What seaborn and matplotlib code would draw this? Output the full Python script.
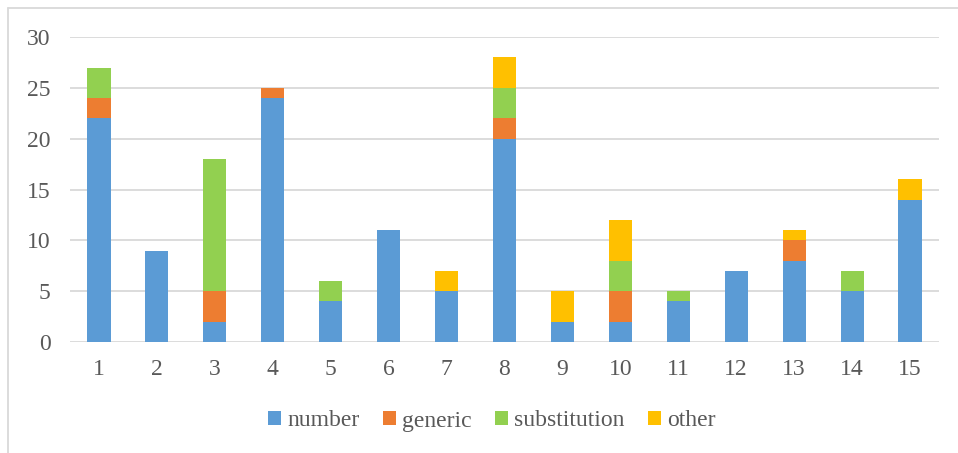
import matplotlib
matplotlib.use("Agg")
import matplotlib.pyplot as plt
from matplotlib.lines import Line2D
from matplotlib.patches import Patch
from matplotlib.font_manager import FontProperties
import numpy as np
import pandas as pd
import seaborn as sns

categories = [str(i) for i in range(1, 16)]
number = [22, 9, 2, 24, 4, 11, 5, 20, 2, 2, 4, 7, 8, 5, 14]
generic = [2, 0, 3, 1, 0, 0, 0, 2, 0, 3, 0, 0, 2, 0, 0]
substitution = [3, 0, 13, 0, 2, 0, 0, 3, 0, 3, 1, 0, 0, 2, 0]
other = [0, 0, 0, 0, 0, 0, 2, 3, 3, 4, 0, 0, 1, 0, 2]

series_names = ["number", "generic", "substitution", "other"]
colors = ["#5B9BD5", "#ED7D31", "#92D050", "#FFC000"]
y_ticks = [0, 5, 10, 15, 20, 25, 30]

sns.set_theme(style="white")
plt.rcParams["font.family"] = ["Liberation Serif", "DejaVu Serif"]
text_color = "#595959"
grid_color = "#D9D9D9"

fig = plt.figure(figsize=(9.58, 4.53), dpi=100)
ax = fig.add_axes([70 / 958, 111 / 453, 869 / 958, 305 / 453])

# stacked bars: draw cumulative totals from the top segment down
values = np.array([number, generic, substitution, other], dtype=float)
cumulative = np.cumsum(values, axis=0)
for i in range(len(series_names) - 1, -1, -1):
    df = pd.DataFrame({"cat": categories, "val": cumulative[i]})
    sns.barplot(data=df, x="cat", y="val", color=colors[i], width=0.4,
                saturation=1, ax=ax, zorder=3, linewidth=0)

ax.set_xlim(-0.5, 14.5)
ax.set_ylim(0, 30)
ax.set_yticks(y_ticks)
ax.set_xlabel("")
ax.set_ylabel("")
for s in ax.spines.values():
    s.set_visible(False)
ax.yaxis.grid(True, color=grid_color, linewidth=1.3, zorder=0)
ax.xaxis.grid(False)
ax.set_axisbelow(True)
ax.tick_params(axis="both", length=0, labelsize=17, labelcolor=text_color)
ax.tick_params(axis="y", pad=14)
ax.tick_params(axis="x", pad=12)

legend_font = FontProperties(family=["Liberation Serif", "DejaVu Serif"], size=17)
handles = [Patch(facecolor=c, edgecolor="none") for c in colors]
fig.legend(handles, series_names, loc="center", bbox_to_anchor=(492 / 958, 1 - 421 / 453),
           ncol=4, frameon=False, prop=legend_font, labelcolor=text_color,
           handlelength=0.55, handleheight=0.55, handletextpad=0.25, columnspacing=1.0)

# outer chart border
fig.add_artist(Line2D([8 / 958, 8 / 958], [0, 1 - 8 / 453], transform=fig.transFigure,
                      color=grid_color, linewidth=1.3))
fig.add_artist(Line2D([8 / 958, 1], [1 - 8 / 453, 1 - 8 / 453], transform=fig.transFigure,
                      color=grid_color, linewidth=1.3))

fig.savefig("out.png", dpi=100, facecolor="white")
